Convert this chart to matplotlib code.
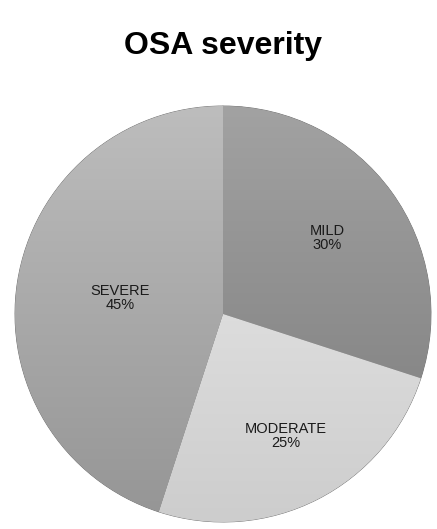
import numpy as np
import matplotlib
matplotlib.use('Agg')
import matplotlib.pyplot as plt

labels = ['MILD', 'MODERATE', 'SEVERE']
shares = [30, 25, 45]
label_dist = [0.62, 0.66, 0.50]
top_colors = ['#a2a2a2', '#ececec', '#bdbdbd']
bottom_colors = ['#7a7a7a', '#cdcdcd', '#959595']

plt.rcParams['font.family'] = ['Liberation Sans', 'DejaVu Sans']

fig = plt.figure(figsize=(4.37, 5.29), dpi=100)
ax = fig.add_axes([(223 - 208) / 437, (215 - 208) / 529, 416 / 437, 416 / 529])

texts = [f'{l}\n{s}%' for l, s in zip(labels, shares)]
wedges, txts = ax.pie(shares, labels=texts, startangle=90, counterclock=False,
                      labeldistance=0.62, colors=top_colors,
                      wedgeprops=dict(edgecolor='#6e6e6e', linewidth=0.6),
                      textprops=dict(fontsize=10.5, ha='center', va='center', color='#1a1a1a'))

# vertical shading inside each slice
for w, c1, c2 in zip(wedges, top_colors, bottom_colors):
    cmap = matplotlib.colors.LinearSegmentedColormap.from_list('g', [c2, c1])
    grad = np.linspace(0, 1, 256).reshape(-1, 1)
    im = ax.imshow(grad, cmap=cmap, extent=(-1, 1, -1, 1), origin='lower',
                   aspect='auto', zorder=w.get_zorder() + 0.1)
    im.set_clip_path(w)

# place each label at its own distance along the slice middle
for w, t, d in zip(wedges, txts, label_dist):
    ang = np.deg2rad((w.theta1 + w.theta2) / 2)
    t.set_position((d * np.cos(ang), d * np.sin(ang)))
    t.set_ha('center')
    t.set_zorder(5)
    t.set_linespacing(1.0)

ax.set_xlim(-1, 1)
ax.set_ylim(-1, 1)
ax.set_aspect('equal')
ax.axis('off')

fig.text(0.51, 1 - 46 / 529, 'OSA severity', ha='center', va='center',
         fontsize=23, fontweight='bold')

fig.savefig('out.png', dpi=100)
